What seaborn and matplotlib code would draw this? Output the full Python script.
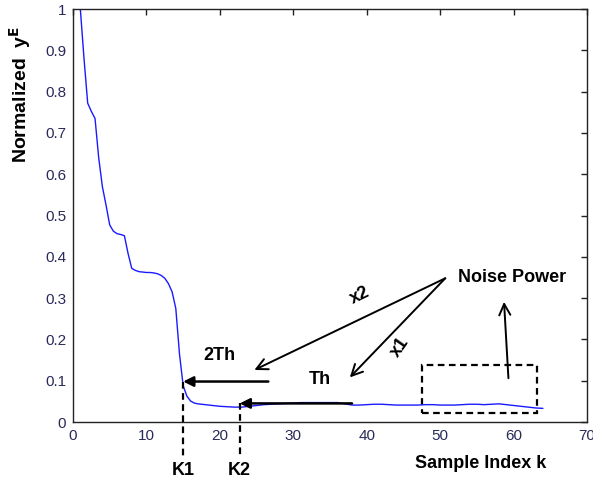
import matplotlib
matplotlib.use("Agg")
import matplotlib.pyplot as plt
from matplotlib.patches import Rectangle
import seaborn as sns
import pandas as pd

# ---- data ----
sample_k = [1, 1.5, 2, 2.5, 3, 3.5, 4, 4.5, 5, 5.5, 6, 6.5, 7, 7.5, 8, 8.5, 9, 9.5,
            10, 10.5, 11, 11.5, 12, 12.5, 13, 13.5, 14, 14.5, 15, 15.5, 16, 16.5,
            17, 17.5, 18, 18.5, 19, 19.5, 20,
            21, 22, 23, 24, 25, 26, 27, 28, 29, 30, 31, 32, 33, 34, 35, 36, 37, 38,
            39, 40, 41, 42, 43, 44, 45, 46, 47, 48, 49, 50, 51, 52, 53, 54, 55, 56,
            57, 58, 59, 60, 61, 62, 63, 64]
norm_yE = [1.000, 0.880, 0.772, 0.752, 0.735, 0.640, 0.570, 0.525, 0.477, 0.462,
           0.456, 0.454, 0.451, 0.408, 0.372, 0.367, 0.364, 0.363, 0.362, 0.362,
           0.361, 0.359, 0.355, 0.348, 0.335, 0.315, 0.275, 0.165, 0.088, 0.063,
           0.051, 0.046, 0.044, 0.043, 0.042, 0.041, 0.040, 0.039, 0.038,
           0.037, 0.036, 0.036, 0.038, 0.040, 0.042, 0.043, 0.044, 0.045, 0.046,
           0.047, 0.047, 0.047, 0.047, 0.047, 0.047, 0.044, 0.041, 0.041, 0.042,
           0.043, 0.043, 0.042, 0.041, 0.041, 0.041, 0.041, 0.042, 0.042, 0.041,
           0.041, 0.041, 0.042, 0.043, 0.043, 0.042, 0.043, 0.044, 0.042, 0.040,
           0.038, 0.036, 0.034, 0.033]
x_ticks = [0, 10, 20, 30, 40, 50, 60, 70]
y_ticks = [0, 0.1, 0.2, 0.3, 0.4, 0.5, 0.6, 0.7, 0.8, 0.9, 1.0]
y_tick_labels = ["0", "0.1", "0.2", "0.3", "0.4", "0.5", "0.6", "0.7", "0.8", "0.9", "1"]
K1, K2 = 15.0, 22.7
th2_level, th_level = 0.098, 0.045
noise_origin = (50.7, 0.348)

df = pd.DataFrame({"k": sample_k, "yE": norm_yE})

sns.set_style("white")
plt.rcParams["font.family"] = ["Liberation Sans", "DejaVu Sans"]

fig = plt.figure(figsize=(5.93, 4.86), dpi=100)
ax = fig.add_axes([73/593, 1-422/486, (587-73)/593, (422-9)/486])

sns.lineplot(data=df, x="k", y="yE", ax=ax, color="#1a1aff", lw=1.0)

ax.set_xlim(0, 70)
ax.set_ylim(0, 1)
ax.set_xticks(x_ticks)
ax.set_xticklabels([str(t) for t in x_ticks])
ax.set_yticks(y_ticks)
ax.set_yticklabels(y_tick_labels)
ax.set_xlabel("")
ax.set_ylabel("")
ax.tick_params(direction="in", length=4, width=1, top=True, right=True,
               labelsize=11, colors="#222", labelcolor="#2a2a5a", pad=5)
for s in ax.spines.values():
    s.set_visible(True)
    s.set_color("#222")
    s.set_linewidth(1.0)

bold = dict(fontweight="bold", fontsize=13, color="black")

# K1 / K2 dashed markers
ax.plot([K1, K1], [th2_level, -0.083], ls=(0, (3, 2)), color="black", lw=1.6, clip_on=False)
ax.plot([K2, K2], [th_level, -0.083], ls=(0, (3, 2)), color="black", lw=1.6, clip_on=False)
ax.text(K1, -0.117, "K1", ha="center", va="center", **bold)
ax.text(K2, -0.117, "K2", ha="center", va="center", **bold)

# 2Th and Th arrows
ax.annotate("", xy=(K1, th2_level), xytext=(26.6, th2_level),
            arrowprops=dict(arrowstyle="-|>", color="black", lw=1.8, mutation_scale=15,
                            shrinkA=0, shrinkB=0))
ax.annotate("", xy=(K2, th_level), xytext=(38.0, th_level),
            arrowprops=dict(arrowstyle="-|>", color="black", lw=1.8, mutation_scale=15,
                            shrinkA=0, shrinkB=0))
ax.text(20.0, 0.160, "2Th", ha="center", va="center", **bold)
ax.text(33.6, 0.103, "Th", ha="center", va="center", **bold)

# Noise power arrows
ax.annotate("", xy=(24.7, 0.126), xytext=noise_origin,
            arrowprops=dict(arrowstyle="->", color="black", lw=1.4, mutation_scale=20,
                            shrinkA=0, shrinkB=0))
ax.annotate("", xy=(37.7, 0.108), xytext=noise_origin,
            arrowprops=dict(arrowstyle="->", color="black", lw=1.4, mutation_scale=20,
                            shrinkA=0, shrinkB=0))
ax.text(39.1, 0.307, "x2", ha="center", va="center", rotation=26, **bold)
ax.text(44.5, 0.182, "x1", ha="center", va="center", rotation=55, **bold)
ax.text(59.8, 0.349, "Noise Power", ha="center", va="center", **bold)

# dashed box + arrow
ax.add_patch(Rectangle((47.5, 0.0225), 63.2-47.5, 0.138-0.0225, fill=False,
                       ls=(0, (3, 2)), lw=1.6, edgecolor="black"))
ax.annotate("", xy=(58.7, 0.291), xytext=(59.3, 0.106),
            arrowprops=dict(arrowstyle="->", color="black", lw=1.4, mutation_scale=20,
                            shrinkA=0, shrinkB=0))

# axis labels
fig.text(481/593, 1-463/486, "Sample Index k", ha="center", va="center", **bold)
fig.text(20/593, 1-94/486, "Normalized  y$^{\\mathbf{E}}$", ha="center", va="center",
         rotation=90, fontweight="bold", fontsize=14, color="black")

fig.savefig("out.png", dpi=100)
